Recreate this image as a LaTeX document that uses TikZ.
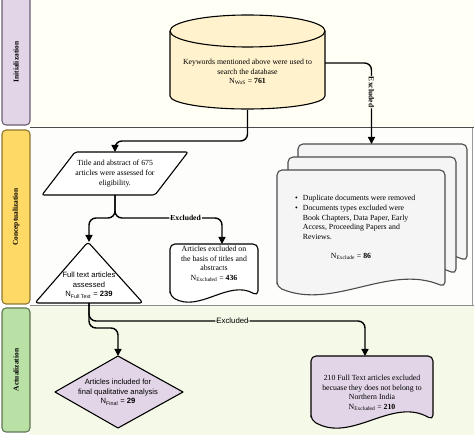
\documentclass[tikz,border=0pt]{standalone}
\usepackage{fontspec}
\setmainfont{Liberation Serif}
\setsansfont{Liberation Sans}
\usetikzlibrary{arrows.meta}

\definecolor{laneInit}{HTML}{FFFFF6}
\definecolor{laneConc}{HTML}{FDFDFB}
\definecolor{laneAct}{HTML}{F4F9E8}
\definecolor{tabInit}{HTML}{E1D5E7}
\definecolor{tabInitLine}{HTML}{6E5C72}
\definecolor{tabConc}{HTML}{FFD966}
\definecolor{tabConcLine}{HTML}{8C7832}
\definecolor{tabAct}{HTML}{B9E0A5}
\definecolor{tabActLine}{HTML}{5E7752}
\definecolor{dbFill}{HTML}{FFF2CC}
\definecolor{stackFill}{HTML}{F5F5F5}
\definecolor{purpleFill}{HTML}{E1D5E7}

% document shape: style, left, top, right, bottom, wave
\newcommand{\docshape}[6]{%
  \draw[#1, rounded corners=5pt] (#2,#5) -- (#2,#3) -- (#4,#3) -- (#4,#5)
    .. controls ({#4-(#4-#2)/3},{#5-3.4*#6}) and ({#2+(#4-#2)/3},{#5+3.4*#6}) .. (#2,#5) -- cycle;}

\begin{document}
\begin{tikzpicture}[x=1pt, y=-1pt, line join=round,
    outline/.style={draw=black, line width=1.1pt},
    flow/.style={draw=black, line width=1.4pt, rounded corners=7pt, -{Triangle[length=7pt, width=7pt]}},
    flowlabel/.style={font=\fontsize{7.6}{9}\selectfont\bfseries, inner sep=1pt},
    serifbox/.style={align=center, font=\fontsize{7.8}{9.6}\selectfont, inner sep=0pt},
    sansbox/.style={align=center, font=\sffamily\fontsize{7.6}{9.8}\selectfont, inner sep=0pt},
    lanetab/.style={rounded corners=4pt, line width=1.1pt},
    lanetitle/.style={rotate=90, font=\fontsize{7.4}{9}\selectfont\bfseries},
    hull/.style={inner sep=0pt, outer sep=0pt}]
  \useasboundingbox (0,0) rectangle (474,435);

  % Lanes
  \fill[laneInit] (30,0) rectangle (474,128);
  \fill[laneConc] (30,128) rectangle (474,306);
  \fill[laneAct] (30,306) rectangle (474,435);
  \draw[black!40, line width=0.8pt] (472,128) -- (472,306);
  \draw[black!70, line width=1pt] (30,128) -- (474,128);
  \draw[black!45, line width=1pt] (30,306) -- (474,306);

  \draw[lanetab, fill=tabInit, draw=tabInitLine] (2,-4) rectangle (30,125);
  \node[lanetitle] (init) at (16,62) {Initialization};
  \draw[lanetab, fill=tabConc, draw=tabConcLine] (2,130) rectangle (30,304);
  \node[lanetitle] (conc) at (16,217) {Conceptualization};
  \draw[lanetab, fill=tabAct, draw=tabActLine] (2,308) rectangle (30,432);
  \node[lanetitle] (act) at (16,370) {Actualization};

  % Database
  \draw[outline, fill=dbFill] (170,31) -- (170,96)
    arc[start angle=180, end angle=0, x radius=77.5, y radius=13] -- (325,31)
    arc[start angle=0, end angle=-180, x radius=77.5, y radius=16] -- cycle;
  \draw[outline] (170,31) arc[start angle=180, end angle=0, x radius=77.5, y radius=16];
  \node[hull, minimum width=155pt, minimum height=94pt] (db) at (247.5,63) {};
  \node[serifbox] (dbtxt) at (247.5,72) {Keywords mentioned above were used to\\search the database\\N\textsubscript{WoS} = \textbf{761}};

  % Screening
  \draw[outline, fill=white, rounded corners=2pt] (75,152) -- (188,152) -- (155,195) -- (42,195) -- cycle;
  \node[serifbox, hull, minimum width=113pt, minimum height=43pt] (title) at (115,173.5) {Title and abstract of 675\\articles were assessed for\\eligibility.};

  \draw[outline, fill=white, rounded corners=3pt] (88,242) -- (143,303) -- (35,303) -- cycle;
  \node[hull, minimum width=108pt, minimum height=61pt] (tri) at (89,272.5) {};
  \node[sansbox] (full) at (89,285) {Full text articles\\assessed\\N\textsubscript{Full Text} = \textbf{239}};

  \docshape{outline, fill=white}{170}{244}{258}{296}{5}
  \node[hull, minimum width=88pt, minimum height=52pt, anchor=north] (ex1doc) at (214,244) {};
  \node[serifbox] (ex1) at (214,264) {Articles excluded on\\the basis of titles and\\abstracts\\N\textsubscript{Excluded} = \textbf{436}};

  % Stack of removed documents
  \docshape{outline, draw=black!70, fill=stackFill}{298}{144}{467}{261}{7}
  \docshape{outline, draw=black!70, fill=stackFill}{288}{157}{456}{274}{7}
  \docshape{outline, draw=black!70, fill=stackFill}{277}{170}{445}{287}{7}
  \node[hull, minimum width=169pt, minimum height=117pt, anchor=north] (stack) at (382.5,144) {};
  \node[serifbox, anchor=north west] (reasons) at (295,194) {%
    \begin{tabular}{@{}l@{\hspace{5pt}}l@{}}
      \textbullet & Duplicate documents were removed\\
      \textbullet & Documents types excluded were\\
                  & Book Chapters, Data Paper, Early\\
                  & Access, Proceeding Papers and\\
                  & Reviews.
    \end{tabular}};
  \node[serifbox] (nexcl) at (351,256) {N\textsubscript{Exclude} = \textbf{86}};

  % Final selection
  \draw[outline, fill=purpleFill] (118,356) -- (183,392) -- (118,428) -- (55,392) -- cycle;
  \node[sansbox, hull, minimum width=128pt, minimum height=72pt] (final) at (118,392) {Articles included for\\final qualitative analysis\\N\textsubscript{Final} = \textbf{29}};

  \docshape{outline, fill=purpleFill}{311}{356}{433}{420}{7}
  \node[hull, minimum width=122pt, minimum height=64pt, anchor=north] (ex2doc) at (372,356) {};
  \node[serifbox] (ex2) at (372,393) {210 Full Text articles excluded\\becuase they does not belong to\\Northern India\\N\textsubscript{Excluded} = \textbf{210}};

  % Connectors
  \draw[flow] (db.east) -| ([xshift=-11pt]stack.north)
    node[flowlabel, rotate=-90, fill=laneInit, pos=0.68] {Excluded};
  \draw[flow] (db.south) -- ++(0,31) -| (title.north);
  \draw[flow] (title.south) -- ++(0,23) -| (tri.north);
  \draw[flow] (title.south) -- ++(0,23) -| ([xshift=8pt]ex1doc.north)
    node[flowlabel, fill=laneConc, pos=0.33] {Excluded};
  \draw[flow] (tri.south) -- ++(0,25) -| (final.north);
  \draw[flow] (tri.south) -- ++(0,18) -| ([xshift=-7pt]ex2doc.north)
    node[flowlabel, font=\sffamily\fontsize{7.8}{9}\selectfont, fill=laneAct, pos=0.26] {Excluded};
\end{tikzpicture}
\end{document}
